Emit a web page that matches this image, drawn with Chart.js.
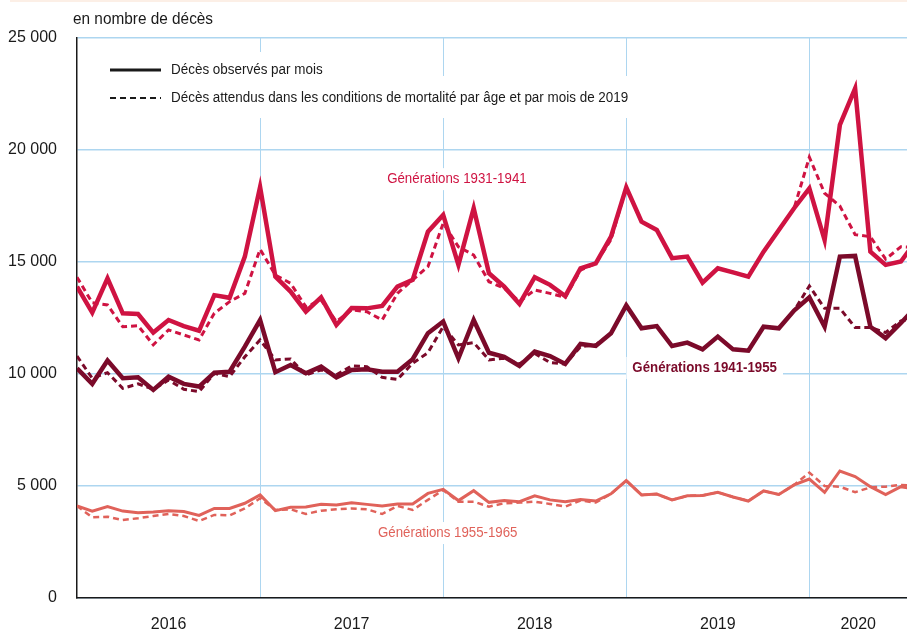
<!DOCTYPE html>
<html lang="fr">
<head>
<meta charset="utf-8">
<title>Décès observés et attendus par génération</title>
<script src="https://cdn.jsdelivr.net/npm/chart.js@4.4.1/dist/chart.umd.min.js"></script>
<style>
  html, body { margin: 0; padding: 0; background: #fff; }
  #wrap { width: 907px; height: 632px; position: relative; }
</style>
</head>
<body>
<div id="wrap"><canvas id="chart"></canvas></div>
<script>
// mois de janvier 2016 (0) à août 2020 (55)
const months = []
for (let yr = 2016; yr <= 2020; yr++) {
  for (let m = 1; m <= 12; m++) {
    if (yr === 2020 && m > 8) break
    months.push(`${yr}-${String(m).padStart(2, '0')}`)
  }
}

const years = ['2016', '2017', '2018', '2019', '2020']
const yTicks = [0, 5000, 10000, 15000, 20000, 25000]

// Générations 1931-1941
const obs3141 = [
  13900, 12740, 14270, 12710, 12680, 11850, 12410, 12140, 11930, 13520, 13400, 15240,
  18350, 14350, 13680, 12780, 13420, 12190, 12950, 12930, 13040, 13900, 14200, 16350,
  17100, 14870, 17400, 14500, 13900, 13130, 14320, 13980, 13480, 14720, 14940, 16130,
  18330, 16800, 16430, 15170, 15240, 14080, 14720, 14540, 14350, 15460, 16430, 17400,
  18290, 15980, 21120, 22750, 15460, 14870, 15020, 15950
]
const exp3141 = [
  14320, 13180, 13080, 12110, 12160, 11300, 11970, 11740, 11520, 12710, 13230, 13600,
  15570, 14420, 14050, 13000, 13300, 12340, 12860, 12780, 12410, 13600, 14200, 14790,
  16730, 15680, 15310, 14120, 13830, 13230, 13750, 13600, 13420, 14640, 14940, 16000,
  18330, 16800, 16430, 15170, 15240, 14080, 14720, 14540, 14350, 15460, 16430, 17400,
  19680, 18070, 17500, 16220, 16130, 15130, 15680, 15650
]

// Générations 1941-1955
const obs4155 = [
  10250, 9560, 10600, 9810, 9850, 9290, 9880, 9560, 9440, 10060, 10100, 11220,
  12410, 10080, 10400, 10030, 10330, 9850, 10180, 10210, 10100, 10100, 10660, 11820,
  12340, 10700, 12410, 10950, 10770, 10360, 11000, 10800, 10450, 11340, 11250, 11820,
  13060, 12040, 12140, 11250, 11400, 11100, 11670, 11100, 11040, 12110, 12040, 12830,
  13420, 12110, 15240, 15270, 12110, 11600, 12280, 13000
]
const exp4155 = [
  10800, 9810, 10060, 9360, 9560, 9320, 9730, 9320, 9210, 10030, 9880, 10770,
  11520, 10630, 10670, 9960, 10180, 9960, 10360, 10330, 9850, 9760, 10480, 10950,
  12110, 11300, 11400, 10630, 10700, 10450, 10920, 10510, 10450, 11220, 11300, 11820,
  13060, 12040, 12140, 11250, 11400, 11100, 11670, 11100, 11040, 12110, 12040, 12830,
  13930, 12930, 12930, 12080, 12080, 11850, 12370, 12450
]

// Générations 1955-1965
const obs5565 = [
  4110, 3880, 4080, 3880, 3810, 3840, 3900, 3860, 3690, 4000, 4000, 4230,
  4600, 3900, 4050, 4060, 4180, 4150, 4250, 4180, 4110, 4200, 4200, 4670,
  4850, 4350, 4790, 4270, 4350, 4300, 4560, 4380, 4300, 4400, 4330, 4650,
  5240, 4600, 4640, 4380, 4560, 4580, 4720, 4510, 4330, 4780, 4620, 5050,
  5310, 4720, 5670, 5420, 4970, 4620, 4970, 4850
]
const exp5565 = [
  4110, 3600, 3630, 3480, 3560, 3660, 3750, 3660, 3440, 3710, 3690, 4000,
  4450, 3930, 3960, 3750, 3900, 3960, 4000, 3960, 3750, 4110, 3930, 4380,
  4820, 4300, 4300, 4080, 4230, 4260, 4300, 4200, 4080, 4350, 4260, 4650,
  5240, 4600, 4640, 4380, 4560, 4580, 4720, 4510, 4330, 4780, 4620, 5050,
  5600, 5000, 4970, 4720, 4940, 4970, 5050, 5000
]

const RED = '#cf1342'
const DARK = '#7b0a2a'
const SALMON = '#e0625a'
const GRID = '#add6f0'
const INK = '#1a1a1a'
const FONT = "'Liberation Sans', Arial, sans-serif"

const xMin = 0
const xMax = 54.4

// ticks: début d'année (grille) + milieu d'année (étiquette)
const yearStarts = years.map((y, i) => i * 12).filter(v => v > xMin)
const yearMids = years.map((y, i) => (i * 12 + Math.min(i * 12 + 12, xMax)) / 2)

const toPoints = arr => arr.map((v, i) => ({ x: i, y: v }))

function line(label, data, color, width, dashed) {
  return {
    label,
    data: toPoints(data),
    borderColor: color,
    backgroundColor: color,
    borderWidth: width,
    borderDash: dashed ? [6, 4] : [],
    borderJoinStyle: 'miter',
    pointRadius: 0,
    tension: 0,
    fill: false
  }
}

// texte un peu condensé, comme la police d'origine
function narrowText(ctx, text, x, y, squeeze) {
  ctx.save()
  ctx.translate(x, y)
  ctx.scale(squeeze, 1)
  ctx.fillText(text, 0, 0)
  ctx.restore()
  return ctx.measureText(text).width * squeeze
}

const overlay = {
  id: 'overlay',
  beforeDatasetsDraw(chart) {
    const { ctx, scales } = chart
    ctx.save()

    // fonds blancs de la légende
    ctx.fillStyle = '#fff'
    ctx.fillRect(100, 52, 230, 32)
    ctx.fillRect(100, 76, 534, 42)

    // légende
    ctx.strokeStyle = INK
    ctx.lineWidth = 3
    ctx.beginPath()
    ctx.moveTo(110, 70); ctx.lineTo(161, 70)
    ctx.stroke()
    ctx.lineWidth = 2
    ctx.setLineDash([6, 4])
    ctx.beginPath()
    ctx.moveTo(110, 98); ctx.lineTo(161, 98)
    ctx.stroke()
    ctx.setLineDash([])

    ctx.fillStyle = INK
    ctx.font = `14px ${FONT}`
    ctx.textAlign = 'left'
    ctx.textBaseline = 'middle'
    narrowText(ctx, 'Décès observés par mois', 171, 70, 0.96)
    narrowText(ctx, 'Décès attendus dans les conditions de mortalité par âge et par mois de 2019', 171, 98, 0.96)

    // étiquettes des générations
    const tag = (text, xv, yv, color, bold, align) => {
      const squeeze = 0.885
      ctx.font = `${bold ? 'bold ' : ''}15px ${FONT}`
      const w = ctx.measureText(text).width * squeeze
      const px = scales.x.getPixelForValue(xv)
      const py = scales.y.getPixelForValue(yv)
      const left = align === 'center' ? px - w / 2 : px
      ctx.fillStyle = '#fff'
      ctx.fillRect(left - 6, py - 11, w + 12, 22)
      ctx.fillStyle = color
      ctx.textAlign = 'left'
      narrowText(ctx, text, left, py, squeeze)
    }
    tag('Générations 1931-1941', 24.9, 18700, RED, false, 'center')
    tag('Générations 1941-1955', 36.4, 10270, DARK, true, 'left')
    tag('Générations 1955-1965', 24.3, 2900, SALMON, false, 'center')

    ctx.restore()
  },
  afterDraw(chart) {
    const { ctx } = chart
    ctx.save()
    ctx.fillStyle = '#fcefe6'
    ctx.fillRect(10, 0, 897, 2)
    ctx.fillStyle = INK
    ctx.font = `16px ${FONT}`
    ctx.textAlign = 'left'
    ctx.textBaseline = 'middle'
    narrowText(ctx, 'en nombre de décès', 73, 20, 0.96)
    ctx.restore()
  }
}

new Chart(document.getElementById('chart'), {
  type: 'line',
  data: {
    datasets: [
      line('Générations 1931-1941 observés', obs3141, RED, 4.5, false),
      line('Générations 1941-1955 observés', obs4155, DARK, 4.5, false),
      line('Générations 1955-1965 observés', obs5565, SALMON, 3, false),
      line('Générations 1931-1941 attendus', exp3141, RED, 3, true),
      line('Générations 1941-1955 attendus', exp4155, DARK, 3, true),
      line('Générations 1955-1965 attendus', exp5565, SALMON, 2.5, true)
    ]
  },
  options: {
    responsive: true,
    maintainAspectRatio: false,
    animation: false,
    layout: { padding: { top: 38, right: 0, bottom: 0, left: 0 } },
    plugins: {
      legend: { display: false },
      tooltip: { enabled: false }
    },
    scales: {
      x: {
        type: 'linear',
        min: xMin,
        max: xMax,
        afterBuildTicks: scale => {
          scale.ticks = [...yearStarts, ...yearMids].sort((a, b) => a - b).map(v => ({ value: v }))
        },
        afterFit: scale => { scale.height = 34 },
        ticks: {
          autoSkip: false,
          maxRotation: 0,
          padding: 17,
          color: INK,
          font: { family: FONT, size: 16 },
          callback: value => {
            const k = yearMids.indexOf(value)
            return k >= 0 ? years[k] : ''
          }
        },
        grid: {
          drawTicks: false,
          lineWidth: 1,
          color: ctx => (ctx.tick && yearStarts.includes(ctx.tick.value)) ? GRID : 'rgba(0,0,0,0)'
        },
        border: { display: true, color: INK, width: 1.5 }
      },
      y: {
        min: 0,
        max: 25000,
        afterBuildTicks: scale => {
          scale.ticks = yTicks.map(v => ({ value: v }))
        },
        afterFit: scale => { scale.width = 77 },
        ticks: {
          padding: 20,
          color: INK,
          font: { family: FONT, size: 16 },
          callback: value => value.toLocaleString('fr-FR').replace(/\s/g, ' ')
        },
        grid: {
          drawTicks: false,
          color: GRID,
          lineWidth: 1.5
        },
        border: { display: true, color: INK, width: 1.5 }
      }
    }
  },
  plugins: [overlay]
})
</script>
</body>
</html>
